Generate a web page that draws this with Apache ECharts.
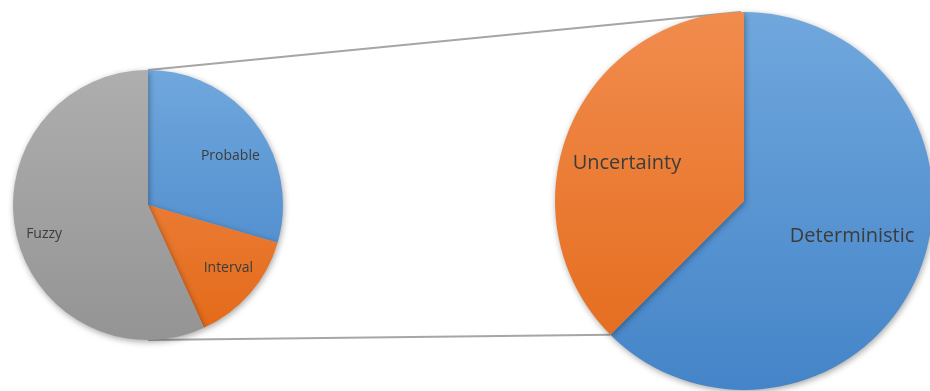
<!DOCTYPE html>
<html>
<head>
<meta charset="utf-8">
<script src="https://cdn.jsdelivr.net/npm/echarts@6/dist/echarts.min.js"></script>
<style>
html,body{margin:0;padding:0;background:#fff;}
#main{width:930px;height:391px;}
</style>
</head>
<body>
<div id="main"></div>
<script>
// Data
var detailCategories = ['Probable', 'Interval', 'Fuzzy'];
var detailValues = [29.5, 13.7, 56.8];
var mainCategories = ['Deterministic', 'Uncertainty'];
var mainValues = [62.5, 37.5];

// Layout (pixels)
var leftC = [148, 205], leftR = 135;
var rightC = [744, 201], rightR = 189;
var detailLabelShift = [[26, -7], [27, 17], [-35, 14]];
var mainLabelShift = [[18, -2], [-27, 0]];

var chart = echarts.init(document.getElementById('main'), null, {renderer: 'canvas'});

function grad(c, r, top, bottom) {
  return new echarts.graphic.LinearGradient(0, c[1] - r, 0, c[1] + r, [
    {offset: 0, color: top}, {offset: 1, color: bottom}
  ], true);
}
var blue = ['#70A7DD', '#4484C8'];
var orange = ['#F18C4E', '#E36918'];
var gray = ['#AEAEAE', '#949494'];

function item(c, r, col) {
  return {
    color: grad(c, r, col[0], col[1]),
    shadowBlur: 6, shadowOffsetX: 1, shadowOffsetY: 2,
    shadowColor: 'rgba(0,0,0,0.35)', borderWidth: 0
  };
}

var leftColors = [blue, orange, gray];
var rightColors = [blue, orange];

// connector geometry derived from pie geometry and data
var uncFrac = mainValues[0] / (mainValues[0] + mainValues[1]);
var ang = uncFrac * 2 * Math.PI;
var splitPt = [rightC[0] + rightR * Math.sin(ang), rightC[1] - rightR * Math.cos(ang)];

var font = '"Open Sans", Lato, sans-serif';

chart.setOption({
  animation: false,
  backgroundColor: '#ffffff',
  graphic: [
    {type: 'line', z: 0, shape: {x1: leftC[0], y1: leftC[1] - leftR, x2: rightC[0] - 3, y2: rightC[1] - rightR},
     style: {stroke: '#A6A6A6', lineWidth: 2}},
    {type: 'line', z: 0, shape: {x1: leftC[0], y1: leftC[1] + leftR, x2: splitPt[0], y2: splitPt[1]},
     style: {stroke: '#A6A6A6', lineWidth: 2}}
  ],
  series: [
    {
      type: 'pie', center: leftC, radius: leftR, startAngle: 90, clockwise: true,
      z: 2,
      label: {show: true, position: 'inside', formatter: '{b}', color: '#3C3C3C',
              fontSize: 14, fontFamily: font},
      labelLine: {show: false},
      emphasis: {disabled: true},
      labelLayout: function (p) {
        var s = detailLabelShift[p.dataIndex];
        return {dx: s[0], dy: s[1]};
      },
      data: detailCategories.map(function (n, i) {
        return {name: n, value: detailValues[i], itemStyle: item(leftC, leftR, leftColors[i])};
      })
    },
    {
      type: 'pie', center: rightC, radius: rightR, startAngle: 90, clockwise: true,
      z: 2,
      label: {show: true, position: 'inside', formatter: '{b}', color: '#3C3C3C',
              fontSize: 20, fontFamily: font},
      labelLine: {show: false},
      emphasis: {disabled: true},
      labelLayout: function (p) {
        var s = mainLabelShift[p.dataIndex];
        return {dx: s[0], dy: s[1]};
      },
      data: mainCategories.map(function (n, i) {
        return {name: n, value: mainValues[i], itemStyle: item(rightC, rightR, rightColors[i])};
      })
    }
  ]
});
</script>
</body>
</html>
